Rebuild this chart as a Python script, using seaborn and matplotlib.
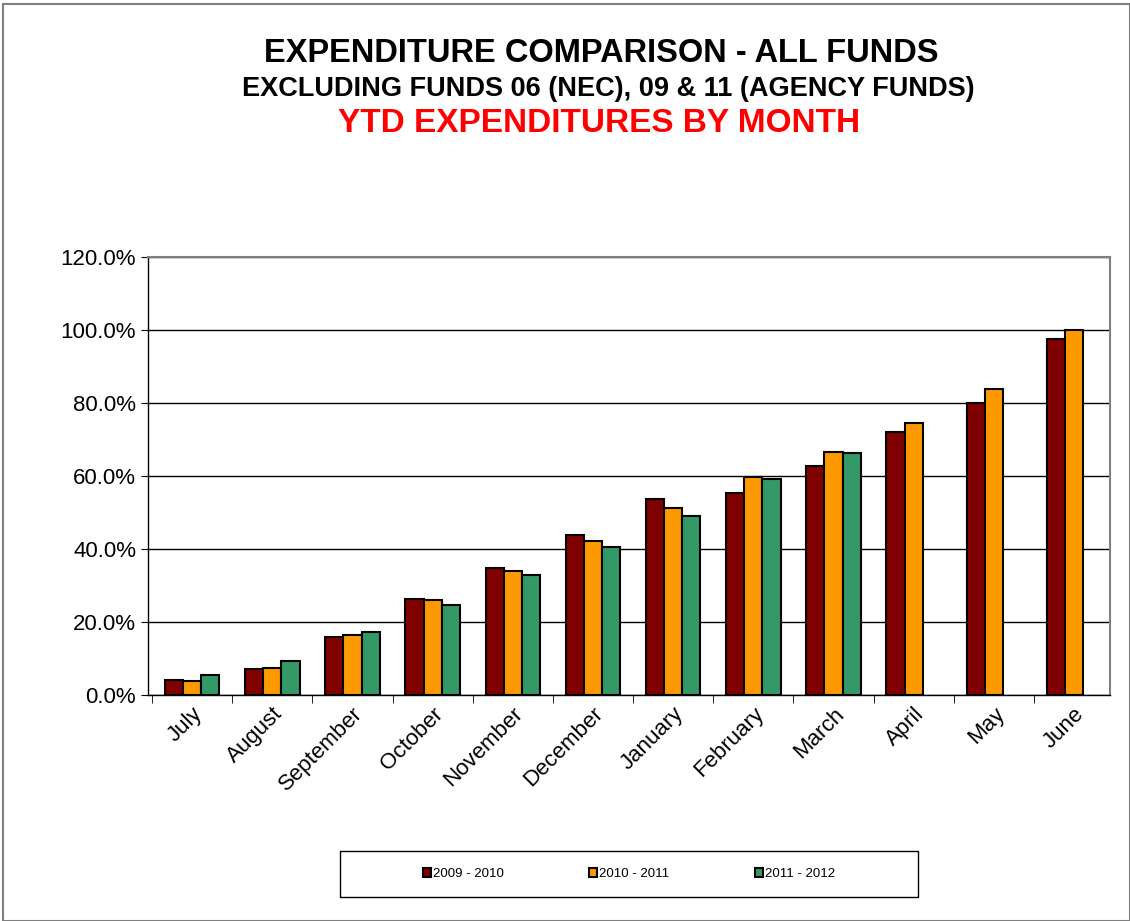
import matplotlib
matplotlib.use("Agg")
import matplotlib.pyplot as plt
from matplotlib.patches import Rectangle
from matplotlib.ticker import FuncFormatter, FixedLocator
import numpy as np
import pandas as pd
import seaborn as sns

months = ["July", "August", "September", "October", "November", "December",
          "January", "February", "March", "April", "May", "June"]
fy_2009_2010 = [4.2, 7.1, 15.9, 26.2, 34.7, 43.7, 53.7, 55.4, 62.8, 72.1, 80.0, 97.6]
fy_2010_2011 = [3.9, 7.3, 16.4, 26.0, 34.1, 42.3, 51.1, 59.7, 66.6, 74.5, 83.9, 100.0]
fy_2011_2012 = [5.5, 9.3, 17.2, 24.6, 33.0, 40.5, 49.0, 59.3, 66.2, np.nan, np.nan, np.nan]
series_names = ["2009 - 2010", "2010 - 2011", "2011 - 2012"]
colors = ["#800000", "#FF9900", "#339966"]

df = pd.DataFrame({
    "month": months * 3,
    "value": fy_2009_2010 + fy_2010_2011 + fy_2011_2012,
    "year": [n for n in series_names for _ in months],
})

sns.set_style("white")
plt.rcParams["font.family"] = ["Liberation Sans", "DejaVu Sans"]
plt.rcParams["text.color"] = "black"
plt.rcParams["xtick.color"] = "black"
plt.rcParams["ytick.color"] = "black"

fig = plt.figure(figsize=(11.3, 9.21), dpi=100)
ax = fig.add_axes([148 / 1130, 1 - 695 / 921, (1110 - 148) / 1130, (695 - 257) / 921])

sns.barplot(data=df, x="month", y="value", hue="year", order=months,
            hue_order=series_names, palette=colors, width=0.68,
            edgecolor="black", linewidth=1.5, saturation=1, ax=ax, legend=False)

ax.set_xlim(-0.55, 11.45)
ax.set_ylim(0, 120)
ax.set_yticks(np.arange(0, 121, 20))
ax.yaxis.set_major_formatter(FuncFormatter(lambda v, _: f"{v:.1f}%"))
ax.tick_params(axis="y", labelsize=16, length=5, direction="out", left=True)
ax.yaxis.grid(True, color="black", linewidth=1)
ax.set_axisbelow(True)

# tick marks between categories, labels centred
ax.set_xticks(range(12))
ax.set_xticklabels(months, rotation=45, ha="right", rotation_mode="anchor")
ax.xaxis.set_minor_locator(FixedLocator(np.arange(-0.5, 12, 1)))
ax.tick_params(axis="x", which="minor", length=6, direction="out", bottom=True)
ax.tick_params(axis="x", which="major", length=0, labelsize=16, pad=6)
ax.set_xlabel("")
ax.set_ylabel("")

for side in ["left", "bottom"]:
    ax.spines[side].set_color("black")
    ax.spines[side].set_linewidth(1)
for side in ["top", "right"]:
    ax.spines[side].set_color("#808080")
    ax.spines[side].set_linewidth(1.5)

fig.text(0.532, 1 - 53 / 921, "EXPENDITURE COMPARISON - ALL FUNDS", ha="center", va="center",
         fontsize=23.5, fontweight="bold")
fig.text(0.538, 1 - 89 / 921, "EXCLUDING FUNDS 06 (NEC), 09 & 11 (AGENCY FUNDS)", ha="center", va="center",
         fontsize=19.5, fontweight="bold")
fig.text(0.53, 1 - 123 / 921, "YTD EXPENDITURES BY MONTH", ha="center", va="center",
         fontsize=24, fontweight="bold", color="red")

# legend box
fig.patches.append(Rectangle((340 / 1130, 1 - 897 / 921), (918 - 340) / 1130, 46 / 921,
                             transform=fig.transFigure, fill=False, edgecolor="black", linewidth=1))
handles = [Rectangle((0, 0), 1, 1, facecolor=c, edgecolor="black", linewidth=1.5) for c in colors]
fig.legend(handles, series_names, ncol=3, loc="center",
           bbox_to_anchor=(629 / 1130, 1 - 874 / 921),
           fontsize=9.5, frameon=False, handlelength=0.6, handleheight=0.6,
           handletextpad=0.15, columnspacing=6.5)

fig.patches.append(Rectangle((3 / 1130, 0), 1 - 3 / 1130, 1 - 4 / 921, transform=fig.transFigure,
                             fill=False, edgecolor="#808080", linewidth=1.5))

fig.savefig("out.png", dpi=100)
